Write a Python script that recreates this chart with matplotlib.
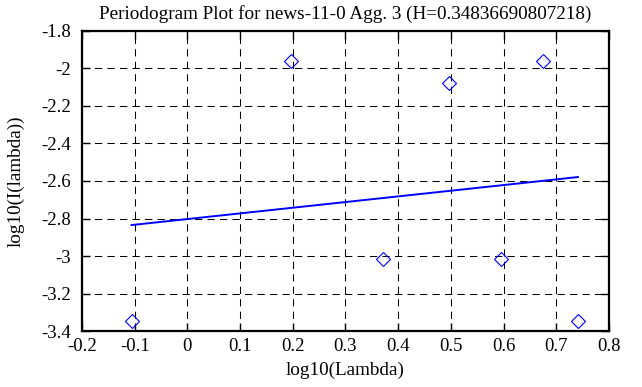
import matplotlib
matplotlib.use("Agg")
from matplotlib import pyplot as plt

# periodogram points (log10 frequency, log10 power)
log_lambda = [-0.106, 0.197, 0.372, 0.497, 0.595, 0.674, 0.741]
log_power = [-3.345, -1.960, -3.016, -2.079, -3.016, -1.960, -3.345]

# fitted line end points
fit_x = [-0.106, 0.741]
fit_y = [-2.835, -2.579]

x_ticks = [-0.2, -0.1, 0, 0.1, 0.2, 0.3, 0.4, 0.5, 0.6, 0.7, 0.8]
x_labels = ['-0.2', '-0.1', '0', '0.1', '0.2', '0.3', '0.4', '0.5', '0.6', '0.7', '0.8']
y_ticks = [-3.4, -3.2, -3.0, -2.8, -2.6, -2.4, -2.2, -2.0, -1.8]
y_labels = ['-3.4', '-3.2', '-3', '-2.8', '-2.6', '-2.4', '-2.2', '-2', '-1.8']

plt.rcParams['font.family'] = ['Liberation Serif', 'DejaVu Serif']

fig = plt.figure(figsize=(6.42, 3.87), dpi=100)
ax = fig.add_axes([0.1277, 0.1447, 0.8209, 0.7752])

ax.plot(log_lambda, log_power, linestyle='none', marker='D', markersize=7,
        markerfacecolor='none', markeredgecolor='#0000ff', markeredgewidth=0.8)
ax.plot(fit_x, fit_y, color='#0000ff', linewidth=1.4)

ax.set_xlim(-0.2, 0.8)
ax.set_ylim(-3.4, -1.8)
ax.set_xticks(x_ticks)
ax.set_xticklabels(x_labels)
ax.set_yticks(y_ticks)
ax.set_yticklabels(y_labels)

ax.grid(True, color='black', linewidth=0.75, linestyle=(0, (7, 5)))
ax.tick_params(direction='in', length=6, width=1, top=True, right=True,
               labelsize=13.5, colors='black')
ax.tick_params(axis='y', pad=8)
ax.tick_params(axis='x', pad=5)
for sp in ax.spines.values():
    sp.set_linewidth(1.6)

ax.set_title('Periodogram Plot for news-11-0 Agg. 3 (H=0.34836690807218)',
             fontsize=13.8, pad=9)
ax.set_xlabel('log10(Lambda)', fontsize=13.8, labelpad=5)
ax.set_ylabel('log10(I(lambda))', fontsize=13.8, labelpad=12)

fig.savefig('out.png', dpi=100)
